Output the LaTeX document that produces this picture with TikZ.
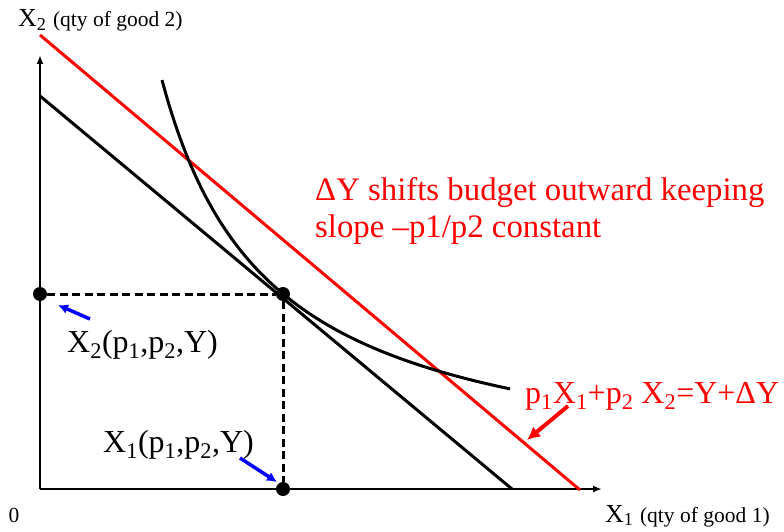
\documentclass[tikz,border=0pt]{standalone}
\usepackage{fontspec}
\setmainfont{Liberation Serif}
\usetikzlibrary{arrows.meta}
\definecolor{pptred}{RGB}{255,0,0}
\definecolor{pptblue}{RGB}{0,0,255}
\tikzset{
  axisline/.style={line width=2.5pt,-{Latex[length=9pt,width=7pt]}},
  budget/.style={line width=3pt},
  guide/.style={line width=3pt,dash pattern=on 8pt off 4.5pt},
  dotnode/.style={circle,fill=black,inner sep=0pt,minimum size=14pt},
  bigtxt/.style={inner sep=0pt,font=\fontsize{32}{37}\selectfont},
  redtxt/.style={bigtxt,text=pptred},
  bluearrow/.style={pptblue,line width=3.5pt,-{Latex[length=10pt,width=10pt]}},
  redarrow/.style={pptred,line width=4pt,-{Latex[length=13pt,width=13pt]}},
}
\begin{document}
\begin{tikzpicture}[x=1pt,y=-1pt]
\useasboundingbox (0,0) rectangle (784,532);
% axes
\coordinate (O) at (40,489);
\coordinate (ytip) at (40,55);
\coordinate (xtip) at (602,489);
\draw[axisline] (O) -- (ytip);
\draw[axisline] (O) -- (xtip);
% budget lines
\coordinate (b0a) at (40,96);
\coordinate (b0b) at (512,489);
\draw[budget] (b0a) -- (b0b);
\coordinate (b1a) at (40,35);
\coordinate (b1b) at (580,490);
\draw[budget,pptred] (b1a) -- (b1b);
% indifference curve
\draw[budget,domain=162:510,samples=80,smooth] plot (\x,{484.7-437*(100/(\x-54))});
% dots
\node[dotnode] (A2) at (40,294) {};
\node[dotnode] (E) at (283,294) {};
\node[dotnode] (A1) at (283,489) {};
\draw[guide] (A2) -- (E);
\draw[guide] (E) -- (A1);
% axis labels
\node[anchor=base west,inner sep=0pt] (ylab) at (18,27)
  {\fontsize{26}{30}\selectfont X\textsubscript{2} \fontsize{21.5}{26}\selectfont(qty of good 2)};
\node[anchor=base west,inner sep=0pt] (xlab) at (605,522)
  {\fontsize{26}{30}\selectfont X\textsubscript{1} \fontsize{21.5}{26}\selectfont(qty of good 1)};
\node[inner sep=0pt,font=\fontsize{21.5}{26}\selectfont] (zero) at (14,515) {0};
% red explanation
\node[redtxt,anchor=base west,font=\fontsize{32.8}{37}\selectfont] (rl1) at (315,200) {ΔY shifts budget outward keeping};
\node[redtxt,anchor=base west,font=\fontsize{32.8}{37}\selectfont] (rl2) at (315,237) {slope –p1/p2 constant};
\node[redtxt,anchor=base west] (rbl) at (525,403)
  {p\textsubscript{1}X\textsubscript{1}+p\textsubscript{2} X\textsubscript{2}=Y+ΔY};
% demand labels
\node[bigtxt,anchor=base west] (x2lab) at (67,352)
  {X\textsubscript{2}(p\textsubscript{1},p\textsubscript{2},Y)};
\node[bigtxt,anchor=base west] (x1lab) at (103,452)
  {X\textsubscript{1}(p\textsubscript{1},p\textsubscript{2},Y)};
% pointer arrows
\coordinate (ba1s) at (90,319);
\coordinate (ba1e) at (58,305);
\draw[bluearrow] (ba1s) -- (ba1e);
\coordinate (ba2s) at (240,458);
\coordinate (ba2e) at (277,482);
\draw[bluearrow] (ba2s) -- (ba2e);
\coordinate (ras) at (568,406);
\coordinate (rae) at (527,440);
\draw[redarrow] (ras) -- (rae);
\end{tikzpicture}
\end{document}
